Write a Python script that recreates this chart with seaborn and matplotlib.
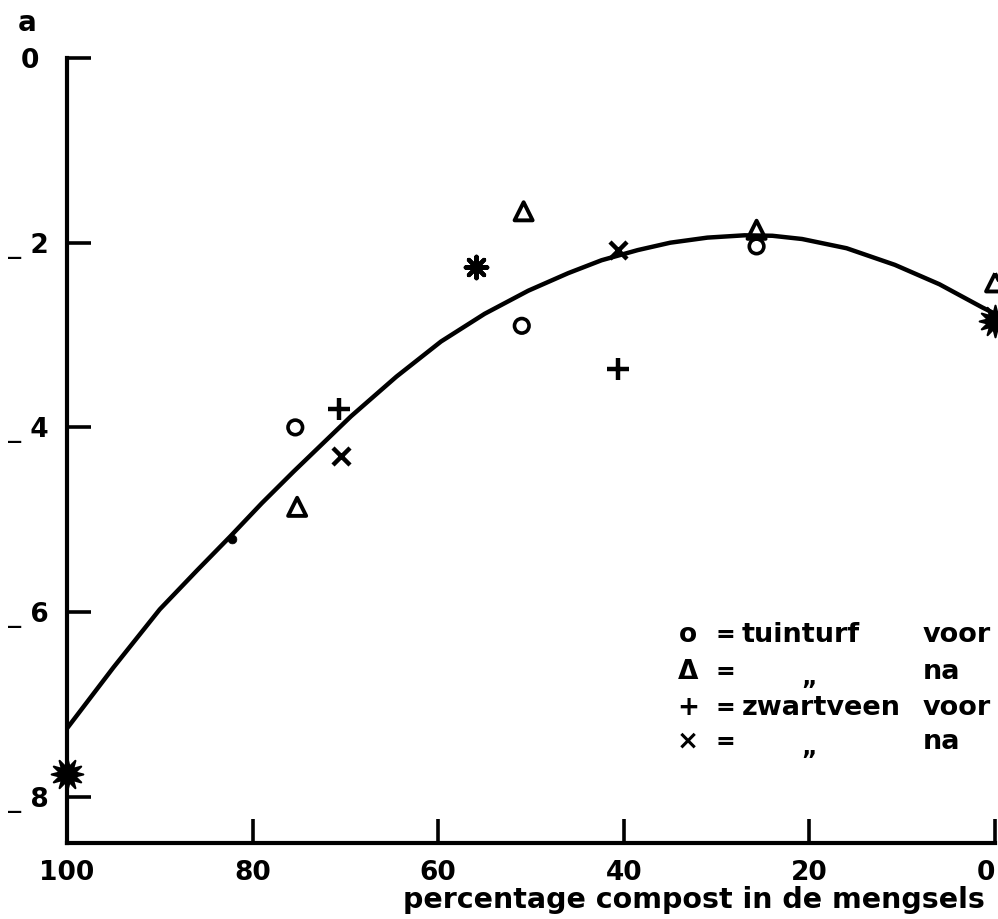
import numpy as np
import pandas as pd
import seaborn as sns
import matplotlib.pyplot as plt

# --- data ---
# tuinturf voor (o)
tv_x = [75.4, 51.0, 25.7]
tv_y = [-4.00, -2.90, -2.04]
# tuinturf na (triangle)
tn_x = [75.2, 50.8, 25.7, 0.0]
tn_y = [-4.86, -1.66, -1.86, -2.43]
# zwartveen voor (+)
zv_x = [70.7, 40.6]
zv_y = [-3.80, -3.37]
# zwartveen na (x)
zn_x = [70.5, 40.6]
zn_y = [-4.31, -2.08]
# asterisks (not in legend)
ast_x = [55.9]
ast_y = [-2.26]
big_x = [100.0, 0.0]
big_y = [-7.75, -2.85]
# small dot on the curve
dot_x = [82.2]
dot_y = [-5.21]

# hand drawn curve, read at several points
curve_x = [100, 95, 90, 86, 82.4, 79, 75.6, 72.5, 69.4, 64.5, 59.7, 55, 50.3,
           46, 42.4, 38.5, 35, 31, 27, 24, 20.8, 16, 10.8, 6, 1.4, 0]
curve_y = [-7.26, -6.60, -5.97, -5.55, -5.18, -4.82, -4.48, -4.18, -3.88,
           -3.45, -3.07, -2.77, -2.52, -2.33, -2.19, -2.08, -2.00, -1.945,
           -1.92, -1.925, -1.96, -2.06, -2.24, -2.45, -2.70, -2.77]

x_ticks = [100, 80, 60, 40, 20, 0]
y_ticks = [0, -2, -4, -6, -8]
y_ticklabels = ['0 ', '_ 2', '_ 4', '_ 6', '_ 8']

legend_rows = [('o', 'tuinturf', 'voor'),
               ('\u0394', '\u201e', 'na'),
               ('+', 'zwartveen', 'voor'),
               ('\u00d7', '\u201e', 'na')]

sns.set_style('ticks', rc={'axes.edgecolor': 'black', 'text.color': 'black',
                           'xtick.color': 'black', 'ytick.color': 'black',
                           'axes.labelcolor': 'black'})
plt.rcParams['font.family'] = ['DejaVu Sans']
plt.rcParams['font.weight'] = 'bold'

fig = plt.figure(figsize=(9.98, 9.19), dpi=100)
ax = fig.add_axes([0.0671, 0.0827, 0.930, 0.8542])

curve = pd.DataFrame({'x': curve_x, 'y': curve_y})
sns.lineplot(data=curve, x='x', y='y', ax=ax, color='black', lw=3.2,
             sort=False, estimator=None)

kw = dict(ax=ax, color='black', legend=False, clip_on=False, zorder=5)
sns.scatterplot(x=tv_x, y=tv_y, marker='o', s=110, facecolor='none',
                edgecolor='black', linewidth=2.6, **kw)
sns.scatterplot(x=tn_x, y=tn_y, marker='^', s=170, facecolor='none',
                edgecolor='black', linewidth=2.8, **kw)
sns.scatterplot(x=zv_x, y=zv_y, marker='+', s=230, linewidth=3.2, **kw)
sns.scatterplot(x=zn_x, y=zn_y, marker='x', s=150, linewidth=3.2, **kw)
sns.scatterplot(x=ast_x, y=ast_y, marker=(8, 2, 0), s=240, linewidth=3.0, **kw)
sns.scatterplot(x=big_x, y=big_y, marker=(12, 1, 0), s=520, linewidth=1.5,
                edgecolor='black', **kw)
sns.scatterplot(x=dot_x, y=dot_y, marker='o', s=40, edgecolor='black', **kw)

ax.set_xlim(100, 0)
ax.set_ylim(-8.5, 0)
ax.set_xticks(x_ticks)
ax.set_xticklabels([str(t) for t in x_ticks])
ax.set_yticks(y_ticks)
ax.set_yticklabels(y_ticklabels)
ax.tick_params(direction='in', length=17, width=2.6, labelsize=19)
ax.tick_params(axis='x', pad=12)
ax.tick_params(axis='y', pad=13)
for lab in ax.get_xticklabels() + ax.get_yticklabels():
    lab.set_fontweight('bold')
# keep the "0" at the right edge inside the picture
ax.get_xticklabels()[-1].set_horizontalalignment('right')

sns.despine(ax=ax)
ax.spines['left'].set_linewidth(3)
ax.spines['bottom'].set_linewidth(3)

ax.set_xlabel('')
ax.set_ylabel('')
fig.text(0.987, 0.021, 'percentage compost in de mengsels', fontsize=20.5,
         fontweight='bold', ha='right', va='center')
fig.text(0.018, 0.975, 'a', fontsize=20, fontweight='bold', va='center')

# legend written as text, like the original
row_y = [0.265, 0.218, 0.172, 0.129]
for (sym, name, when), yy in zip(legend_rows, row_y):
    ax.text(0.669, yy, sym, transform=ax.transAxes, fontsize=19,
            fontweight='bold', ha='center', va='center')
    ax.text(0.709, yy, '=', transform=ax.transAxes, fontsize=17,
            fontweight='bold', ha='center', va='center')
    if name == '\u201e':
        ax.text(0.80, yy - 0.008, name, transform=ax.transAxes, fontsize=17,
                fontweight='bold', ha='center', va='center')
    else:
        ax.text(0.727, yy, name, transform=ax.transAxes, fontsize=19.5,
                fontweight='bold', ha='left', va='center')
    ax.text(0.922, yy, when, transform=ax.transAxes, fontsize=19.5,
            fontweight='bold', ha='left', va='center')

fig.savefig('out.png', dpi=100)
